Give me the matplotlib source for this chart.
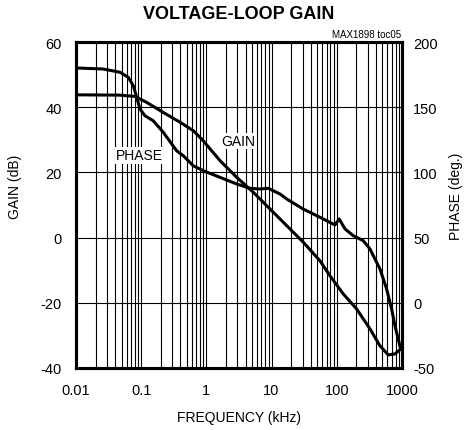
import matplotlib
matplotlib.use('Agg')
import matplotlib.pyplot as plt
from matplotlib.ticker import FixedLocator, NullFormatter

plt.rcParams['font.family'] = ['Liberation Sans', 'DejaVu Sans']
plt.rcParams['axes.unicode_minus'] = False

# frequency (kHz) / gain (dB)
gain_freq = [0.01, 0.047, 0.080, 0.121, 0.218, 0.394, 0.630, 0.896, 1.62,
             2.92, 5.24, 9.45, 17.1, 30.6, 55.2, 78.7, 126, 202, 323, 460,
             617, 781, 955]
gain_db = [43.8, 43.7, 43.3, 41.5, 38.4, 35.4, 32.8, 29.7, 23.6, 18.5, 13.9,
           8.8, 3.65, -1.4, -7.1, -11.7, -17.3, -21.9, -28.0, -33.2, -36.0,
           -35.7, -34.2]

# frequency (kHz) / phase (deg.)
phase_freq = [0.01, 0.0262, 0.0473, 0.0634, 0.0757, 0.0853, 0.0959, 0.114,
              0.153, 0.218, 0.350, 0.442, 0.630, 0.896, 1.62, 2.92, 4.67,
              6.64, 8.90, 13.5, 17.1, 30.6, 55.2, 93.8, 109, 134, 179, 255,
              323, 460, 582, 695, 781, 877, 955]
phase_deg = [180.1, 179.3, 176.8, 172.9, 166.5, 157.6, 148.6, 143.5, 139.6,
             130.8, 116.6, 112.8, 105.1, 101.3, 96.2, 91.1, 87.8, 87.3, 87.8,
             83.4, 79.6, 71.9, 65.6, 59.7, 64.3, 56.6, 51.5, 47.6, 41.3, 25.9,
             10.6, -4.8, -17.6, -27.8, -35.4]

gain_ticks = [-40, -20, 0, 20, 40, 60]
phase_ticks = [-50, 0, 50, 100, 150, 200]
freq_ticks = [0.01, 0.1, 1, 10, 100, 1000]
freq_labels = ['0.01', '0.1', '1', '10', '100', '1000']

fig = plt.figure(figsize=(4.67, 4.31), dpi=100)
ax = fig.add_axes([0.1627, 0.1439, 0.698, 0.7563])
ax2 = ax.twinx()

ax.set_xscale('log')
ax.set_xlim(0.01, 1000)
ax.set_ylim(-40, 60)
ax2.set_ylim(-50, 200)

minors = [m * 10.0 ** e for e in range(-2, 3) for m in range(2, 10)]
ax.xaxis.set_major_locator(FixedLocator(freq_ticks))
ax.xaxis.set_minor_locator(FixedLocator(minors))
ax.xaxis.set_minor_formatter(NullFormatter())
ax.set_xticks(freq_ticks)
ax.set_xticklabels(freq_labels)
ax.set_yticks(gain_ticks)
ax2.set_yticks(phase_ticks)

ax.grid(True, which='major', axis='both', color='black', lw=0.8)
ax.grid(True, which='minor', axis='x', color='black', lw=0.8)
ax.set_axisbelow(True)

ax.plot(gain_freq, gain_db, color='black', lw=2.2, solid_capstyle='round')
ax2.plot(phase_freq, phase_deg, color='black', lw=2.2, solid_capstyle='round')

ax.tick_params(axis='y', which='both', length=0, labelsize=10.5, pad=10)
ax.tick_params(axis='x', which='both', length=0, labelsize=10.5, pad=11)
ax2.tick_params(which='both', length=0, labelsize=10.5, pad=8)
for a in (ax, ax2):
    for s in a.spines.values():
        s.set_linewidth(2.2)

ax.set_xlabel('FREQUENCY (kHz)', fontsize=10, labelpad=9)
ax.set_ylabel('GAIN (dB)', fontsize=10)
ax.yaxis.set_label_coords(-0.165, 0.56)
ax2.set_ylabel('PHASE (deg.)', fontsize=10)
ax2.yaxis.set_label_coords(1.145, 0.53)

ax.text(0.094, 25.2, 'PHASE', fontsize=10, ha='center', va='center',
        bbox=dict(facecolor='white', edgecolor='none', pad=1))
ax.text(3.11, 29.6, 'GAIN', fontsize=10, ha='center', va='center',
        bbox=dict(facecolor='white', edgecolor='none', pad=1))

fig.text(0.512, 0.967, 'VOLTAGE-LOOP GAIN', fontsize=13, fontweight='bold',
         ha='center', va='center')
fig.text(0.858, 0.918, 'MAX1898 toc05', fontsize=7, ha='right', va='center')

fig.savefig('out.png', dpi=100)
